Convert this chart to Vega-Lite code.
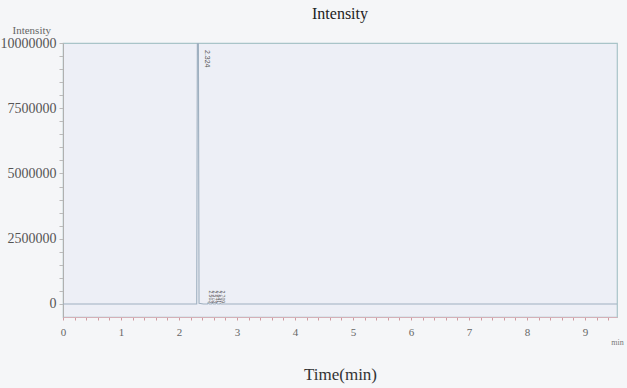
{
  "$schema": "https://vega.github.io/schema/vega-lite/v6.json",
  "width": 554,
  "height": 274,
  "autosize": {"type": "none"},
  "padding": {"left": 63, "top": 43, "right": 10, "bottom": 71},
  "background": "#f5f6f8",
  "config": {
    "font": "Liberation Serif",
    "view": {"fill": "#edeff6", "stroke": "#a9c4c8", "strokeWidth": 1.2}
  },
  "title": {
    "text": "Intensity",
    "font": "Liberation Serif",
    "fontSize": 16,
    "fontWeight": "normal",
    "color": "#222222",
    "anchor": "middle",
    "frame": "group",
    "offset": 2
  },
  "datasets": {
    "trace": [
      {"t": 0.0, "i": 0},
      {"t": 1.0, "i": 0},
      {"t": 2.0, "i": 0},
      {"t": 2.305, "i": 0},
      {"t": 2.318, "i": 12000000},
      {"t": 2.324, "i": 14000000},
      {"t": 2.332, "i": 12000000},
      {"t": 2.345, "i": 30000},
      {"t": 2.42, "i": 0},
      {"t": 2.49, "i": 0},
      {"t": 2.503, "i": 60000},
      {"t": 2.52, "i": 0},
      {"t": 2.56, "i": 0},
      {"t": 2.573, "i": 45000},
      {"t": 2.59, "i": 0},
      {"t": 2.63, "i": 0},
      {"t": 2.641, "i": 35000},
      {"t": 2.66, "i": 0},
      {"t": 2.70, "i": 0},
      {"t": 2.709, "i": 25000},
      {"t": 2.725, "i": 0},
      {"t": 4.0, "i": 0},
      {"t": 6.0, "i": 0},
      {"t": 8.0, "i": 0},
      {"t": 9.55, "i": 0}
    ],
    "peaks": [
      {"t": 2.324, "i": 10000000, "label": "2.324", "pos": "top"},
      {"t": 2.503, "i": 0, "label": "2.503", "pos": "bottom"},
      {"t": 2.573, "i": 0, "label": "2.573", "pos": "bottom"},
      {"t": 2.641, "i": 0, "label": "2.641", "pos": "bottom"},
      {"t": 2.709, "i": 0, "label": "2.709", "pos": "bottom"}
    ],
    "unit": [{"t": 9.45, "i": -1500000, "label": "min"}]
  },
  "layer": [
    {
      "data": {"name": "trace"},
      "mark": {"type": "line", "color": "#9fb0c0", "strokeWidth": 1.1, "clip": true, "interpolate": "linear"},
      "encoding": {
        "x": {
          "field": "t",
          "type": "quantitative",
          "scale": {"domain": [0, 9.55], "nice": false, "zero": false},
          "axis": {
            "title": "Time(min)",
            "titleFont": "Liberation Serif",
            "titleFontSize": 17,
            "titleFontWeight": "normal",
            "titleColor": "#333333",
            "titleY": 57,
            "titleBaseline": "middle",
            "values": [0,0.2,0.4,0.6,0.8,1,1.2,1.4,1.6,1.8,2,2.2,2.4,2.6,2.8,3,3.2,3.4,3.6,3.8,4,4.2,4.4,4.6,4.8,5,5.2,5.4,5.6,5.8,6,6.2,6.4,6.6,6.8,7,7.2,7.4,7.6,7.8,8,8.2,8.4,8.6,8.8,9,9.2,9.4],
            "tickCount": 200,
            "labelExpr": "abs(round(datum.value) - datum.value) < 0.001 ? format(datum.value, 'd') : ''",
            "labelOverlap": false,
            "labelFlush": false,
            "labelBound": false,
            "labelFont": "Liberation Serif",
            "labelFontSize": 11,
            "labelColor": "#666666",
            "labelPadding": 6,
            "tickSize": 3,
            "tickColor": "#d09aa0",
            "domainColor": "#d4b0b8",
            "grid": false
          }
        },
        "y": {
          "field": "i",
          "type": "quantitative",
          "scale": {"domain": [-500000, 10000000], "nice": false, "zero": false},
          "axis": {
            "title": "Intensity",
            "titleAngle": 0,
            "titleAlign": "left",
            "titleBaseline": "alphabetic",
            "titleX": -51,
            "titleY": -10,
            "titleFont": "Liberation Serif",
            "titleFontSize": 11,
            "titleFontWeight": "normal",
            "titleColor": "#666666",
            "values": [0,500000,1000000,1500000,2000000,2500000,3000000,3500000,4000000,4500000,5000000,5500000,6000000,6500000,7000000,7500000,8000000,8500000,9000000,9500000,10000000],
            "tickCount": 200,
            "labelExpr": "datum.value % 2500000 == 0 ? format(datum.value, 'd') : ''",
            "labelOverlap": false,
            "labelFlush": false,
            "labelBound": false,
            "labelFont": "Liberation Serif",
            "labelFontSize": 14,
            "labelColor": "#555555",
            "labelPadding": 3,
            "tickSize": 4,
            "tickColor": "#bbbbbb",
            "domainColor": "#b0b0b0",
            "grid": false
          }
        }
      }
    },
    {
      "data": {"name": "peaks"},
      "transform": [{"filter": "datum.pos == 'top'"}],
      "mark": {"type": "text", "angle": 90, "align": "left", "baseline": "middle", "dx": 7, "dy": -9, "fontSize": 7, "color": "#555555", "font": "Liberation Sans"},
      "encoding": {
        "x": {"field": "t", "type": "quantitative"},
        "y": {"field": "i", "type": "quantitative"},
        "text": {"field": "label"}
      }
    },
    {
      "data": {"name": "peaks"},
      "transform": [{"filter": "datum.pos == 'bottom'"}],
      "mark": {"type": "text", "angle": 90, "align": "right", "baseline": "middle", "dx": -1, "dy": -3, "fontSize": 5, "color": "#555555", "font": "Liberation Sans"},
      "encoding": {
        "x": {"field": "t", "type": "quantitative"},
        "y": {"field": "i", "type": "quantitative"},
        "text": {"field": "label"}
      }
    },
    {
      "data": {"name": "unit"},
      "mark": {"type": "text", "align": "left", "baseline": "middle", "fontSize": 8, "color": "#777777", "clip": false},
      "encoding": {
        "x": {"field": "t", "type": "quantitative"},
        "y": {"field": "i", "type": "quantitative"},
        "text": {"field": "label"}
      }
    }
  ]
}
